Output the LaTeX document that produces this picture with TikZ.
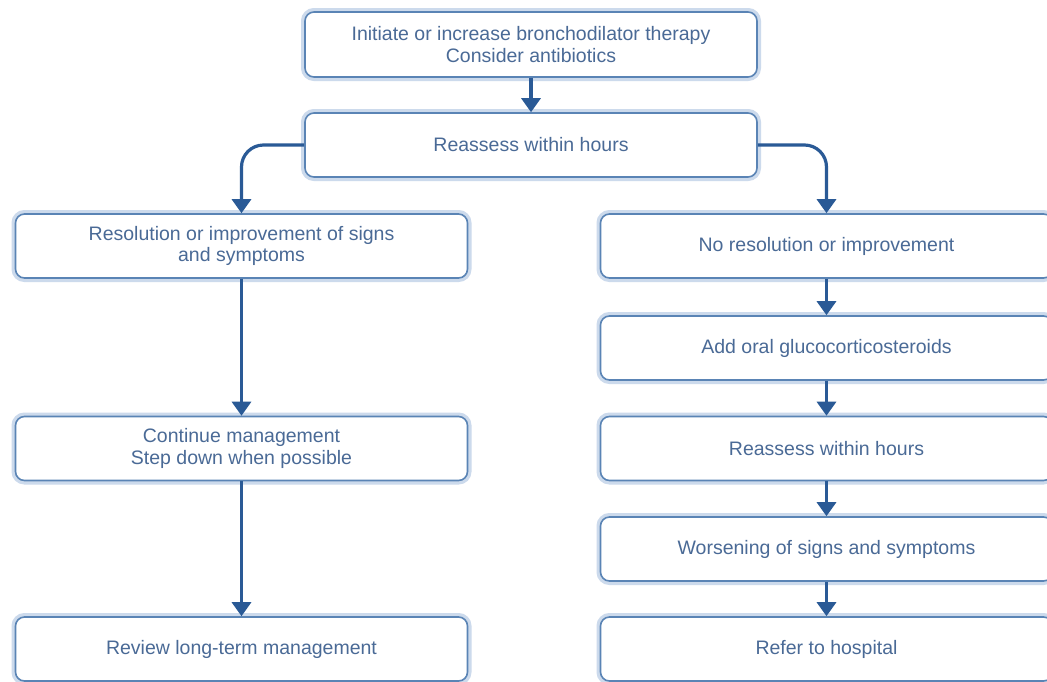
\documentclass[tikz,border=0pt]{standalone}
\usepackage{fontspec}
\setmainfont{Liberation Sans}
\usetikzlibrary{arrows.meta}
\definecolor{boxline}{HTML}{5A84B5}
\definecolor{glow}{HTML}{CCDAEC}
\definecolor{arrowc}{HTML}{2A5A96}
\definecolor{textc}{HTML}{4A6A96}
\tikzset{
  box/.style={draw=boxline, line width=1.6pt, rounded corners=9pt, fill=white,
    preaction={draw=glow, line width=8pt},
    text=textc, align=center, font=\fontsize{19.5}{21.5}\selectfont,
    minimum height=64pt, inner sep=0pt},
  wide/.style={box, minimum width=452pt},
  conn/.style={draw=arrowc, line width=3.2pt, -{Triangle[width=19pt,length=14pt]}}
}
\begin{document}
\begin{tikzpicture}[x=1pt,y=-1pt]
\useasboundingbox (0,0) rectangle (1047,681);
\clip (0,0) rectangle (1047,681);
\fill[white] (0,0) rectangle (1047,681);
\node[wide, minimum height=65pt] (top) at (531,44.5) {Initiate or increase bronchodilator therapy\\Consider antibiotics};
\node[wide] (re) at (531,145) {Reassess within hours};
\node[wide] (l1) at (241.5,246) {Resolution or improvement of signs\\and symptoms};
\node[wide] (l2) at (241.5,448.5) {Continue management\\Step down when possible};
\node[wide] (l3) at (241.5,649) {Review long-term management};
\node[wide] (r1) at (826.5,246) {No resolution or improvement};
\node[wide] (r2) at (826.5,348) {Add oral glucocorticosteroids};
\node[wide] (r3) at (826.5,448.5) {Reassess within hours};
\node[wide] (r4) at (826.5,549) {Worsening of signs and symptoms};
\node[wide] (r5) at (826.5,649) {Refer to hospital};
\draw[conn] (top) -- (re);
\draw[conn, rounded corners=22pt] (re.west) -| (l1.north);
\draw[conn, rounded corners=22pt] (re.east) -| (r1.north);
\draw[conn] (l1) -- (l2);
\draw[conn] (l2) -- (l3);
\draw[conn] (r1) -- (r2);
\draw[conn] (r2) -- (r3);
\draw[conn] (r3) -- (r4);
\draw[conn] (r4) -- (r5);
\end{tikzpicture}
\end{document}
